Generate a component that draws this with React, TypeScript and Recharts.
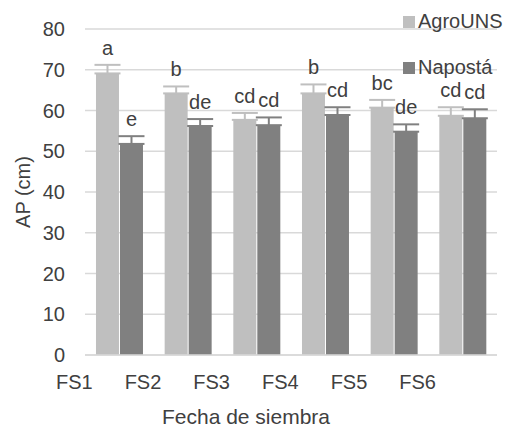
import React from "react";
import {
  BarChart,
  Bar,
  XAxis,
  YAxis,
  CartesianGrid,
  ErrorBar,
  LabelList,
} from "recharts";

const categories = ["FS1", "FS2", "FS3", "FS4", "FS5", "FS6"];
const agroValues = [69.1, 64.2, 57.7, 64.2, 60.7, 58.7];
const agroErrors = [2.1, 1.7, 1.7, 2.2, 1.9, 2.1];
const agroLetters = ["a", "b", "cd", "b", "bc", "cd"];
const napostaValues = [51.8, 56.2, 56.4, 58.9, 54.8, 58.1];
const napostaErrors = [1.9, 1.7, 1.9, 1.9, 1.8, 2.2];
const napostaLetters = ["e", "de", "cd", "cd", "de", "cd"];
const yTicks = [0, 10, 20, 30, 40, 50, 60, 70, 80];
const seriesNames = ["AgroUNS", "Napostá"];

const LIGHT = "#bfbfbf";
const DARK = "#808080";
const TEXT = "#404040";
const FONT = "'Liberation Sans', Arial, sans-serif";

const data = categories.map((c, i) => ({
  name: c,
  agro: agroValues[i],
  agroErr: [0, agroErrors[i]],
  agroLetter: agroLetters[i],
  naposta: napostaValues[i],
  napostaErr: [0, napostaErrors[i]],
  napostaLetter: napostaLetters[i],
}));

const makeLetter = (values: number[], errors: number[]) => (props: any) => {
  const { x, y, width, height, value, index } = props;
  const perUnit = height / values[index];
  const top = y - errors[index] * perUnit;
  return (
    <text
      x={x + width / 2}
      y={top - 10}
      textAnchor="middle"
      fill={TEXT}
      fontSize={20}
      fontFamily={FONT}
    >
      {value}
    </text>
  );
};

// legend sits over the plot in the top-right corner, like the original
const LegendBox = () => (
  <div
    style={{
      position: "absolute",
      left: 403,
      top: 9,
      fontFamily: FONT,
      fontSize: 20,
      color: TEXT,
    }}
  >
    {seriesNames.map((label, i) => (
      <div
        key={label}
        style={{ display: "flex", alignItems: "center", height: 24, marginBottom: i === 0 ? 22 : 0 }}
      >
        <span
          style={{
            width: 12,
            height: 12,
            background: i === 0 ? LIGHT : DARK,
            marginRight: 3,
            marginTop: 2,
            display: "inline-block",
          }}
        />
        <span>{label}</span>
      </div>
    ))}
  </div>
);

export default function App() {
  return (
    <div style={{ position: "absolute", left: 0, top: 0, width: 512, height: 428, background: "#fff" }}>
      <BarChart
        width={512}
        height={428}
        data={data}
        margin={{ top: 29, right: 15, bottom: 0, left: 0 }}
        barCategoryGap="16%"
        barGap={1}
      >
        <CartesianGrid vertical={false} stroke="#d9d9d9" strokeWidth={1.5} />
        <XAxis
          dataKey="name"
          height={73}
          tickLine={false}
          axisLine={{ stroke: "#d9d9d9", strokeWidth: 1.5 }}
          tickSize={0}
          tickMargin={20}
          tick={{ fill: TEXT, fontSize: 20, fontFamily: FONT, dx: -45 }}
          interval={0}
          label={{
            value: "Fecha de siembra",
            position: "insideBottom",
            offset: 4,
            dx: -45,
            fill: TEXT,
            fontSize: 21,
            fontFamily: FONT,
          }}
        />
        <YAxis
          width={85}
          domain={[0, 80]}
          ticks={yTicks}
          tickLine={false}
          axisLine={false}
          tickSize={0}
          tickMargin={20}
          tick={{ fill: TEXT, fontSize: 20, fontFamily: FONT }}
          label={{
            value: "AP (cm)",
            angle: -90,
            position: "center",
            dx: -20,
            fill: TEXT,
            fontSize: 20,
            fontFamily: FONT,
          }}
        />
        <Bar dataKey="agro" name={seriesNames[0]} fill={LIGHT} isAnimationActive={false}>
          <ErrorBar dataKey="agroErr" direction="y" width={13} stroke={LIGHT} strokeWidth={2} />
          <LabelList dataKey="agroLetter" content={makeLetter(agroValues, agroErrors)} />
        </Bar>
        <Bar dataKey="naposta" name={seriesNames[1]} fill={DARK} isAnimationActive={false}>
          <ErrorBar dataKey="napostaErr" direction="y" width={13} stroke={DARK} strokeWidth={2} />
          <LabelList dataKey="napostaLetter" content={makeLetter(napostaValues, napostaErrors)} />
        </Bar>
      </BarChart>
      <LegendBox />
    </div>
  );
}
